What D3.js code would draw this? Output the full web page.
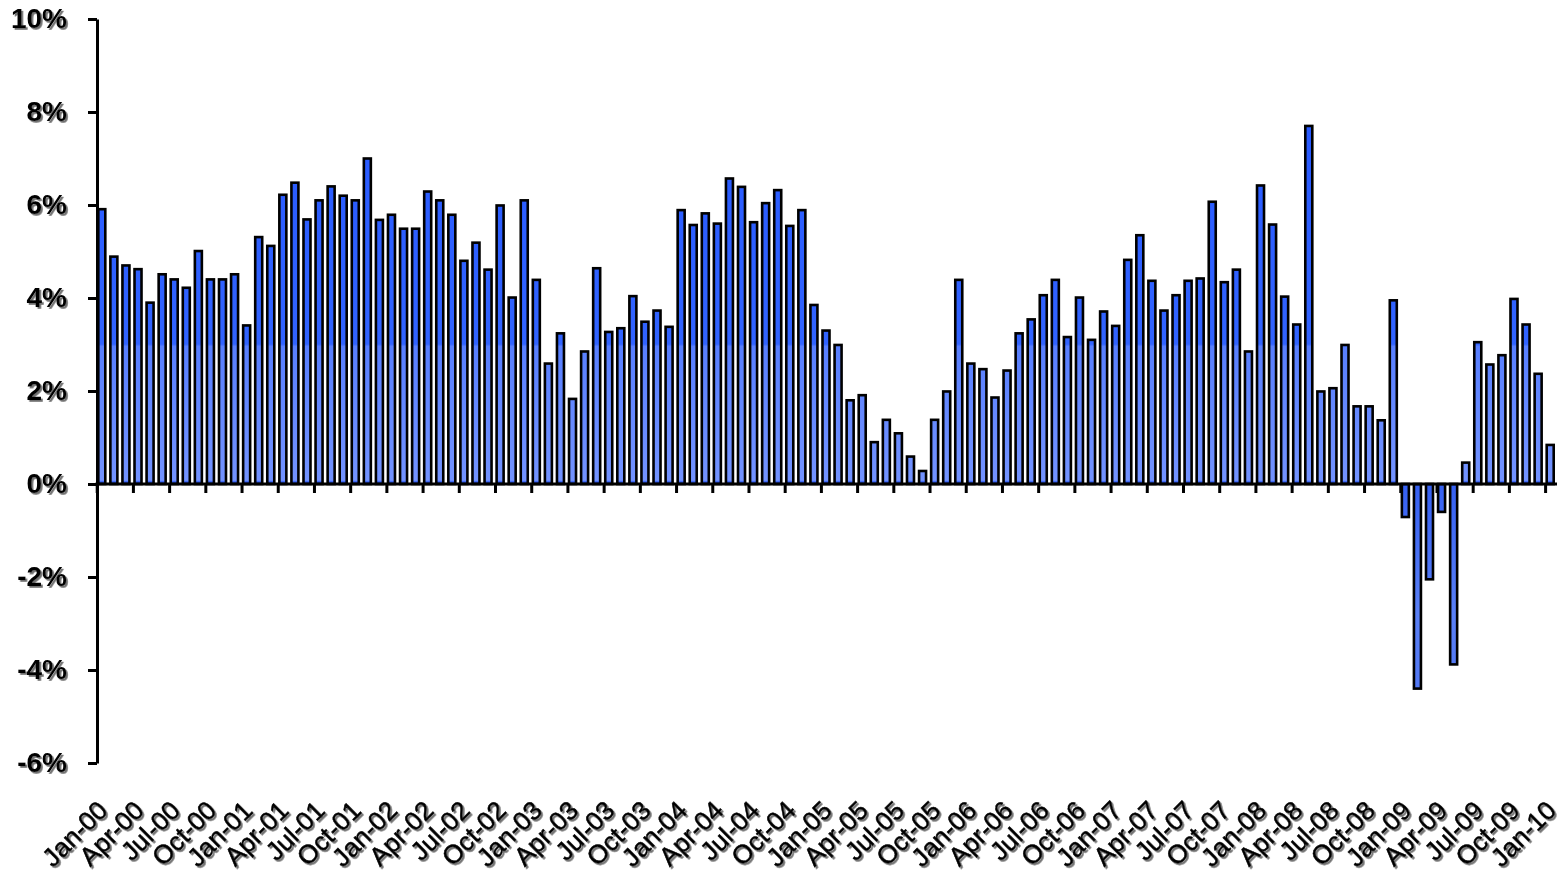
<!DOCTYPE html>
<html lang="en">
<head>
<meta charset="UTF-8">
<title>Monthly growth Jan-00 to Jan-10</title>
<script src="https://d3js.org/d3.v7.min.js"></script>
<style>
  body { margin: 0; background: #fff; }
  svg { display: block; background: #fff; }
  text { font-family: "Liberation Sans", Arial, sans-serif; font-weight: bold; fill: #000; }
</style>
</head>
<body>
<script>
// DATA (percent)
const years = ["00", "01", "02", "03", "04", "05", "06", "07", "08", "09", "10"];
const monthNames = ["Jan", "Feb", "Mar", "Apr", "May", "Jun", "Jul", "Aug", "Sep", "Oct", "Nov", "Dec"];

const v2000 = [5.91, 4.89, 4.70, 4.62, 3.90, 4.51, 4.40, 4.22, 5.01, 4.40, 4.40, 4.51];
const v2001 = [3.41, 5.31, 5.12, 6.22, 6.48, 5.69, 6.10, 6.40, 6.20, 6.10, 7.00, 5.68];
const v2002 = [5.79, 5.49, 5.49, 6.29, 6.10, 5.79, 4.80, 5.19, 4.61, 5.99, 4.01, 6.10];
const v2003 = [4.39, 2.59, 3.24, 1.83, 2.85, 4.64, 3.27, 3.35, 4.04, 3.49, 3.73, 3.38];
const v2004 = [5.89, 5.57, 5.82, 5.60, 6.57, 6.39, 5.63, 6.04, 6.32, 5.55, 5.89, 3.85];
const v2005 = [3.30, 2.99, 1.80, 1.91, 0.90, 1.38, 1.09, 0.59, 0.28, 1.38, 1.99, 4.39];
const v2006 = [2.59, 2.47, 1.86, 2.44, 3.24, 3.54, 4.06, 4.39, 3.16, 4.01, 3.10, 3.71];
const v2007 = [3.40, 4.82, 5.35, 4.37, 3.73, 4.06, 4.37, 4.42, 6.07, 4.34, 4.61, 2.85];
const v2008 = [6.42, 5.58, 4.03, 3.43, 7.70, 1.99, 2.06, 2.99, 1.67, 1.67, 1.37, 3.95];
const v2009 = [-0.71, -4.40, -2.05, -0.60, -3.88, 0.46, 3.05, 2.57, 2.77, 3.98, 3.43, 2.37];
const v2010 = [0.84];

const tickLabels = ["Jan-00", "Apr-00", "Jul-00", "Oct-00", "Jan-01", "Apr-01", "Jul-01", "Oct-01",
  "Jan-02", "Apr-02", "Jul-02", "Oct-02", "Jan-03", "Apr-03", "Jul-03", "Oct-03",
  "Jan-04", "Apr-04", "Jul-04", "Oct-04", "Jan-05", "Apr-05", "Jul-05", "Oct-05",
  "Jan-06", "Apr-06", "Jul-06", "Oct-06", "Jan-07", "Apr-07", "Jul-07", "Oct-07",
  "Jan-08", "Apr-08", "Jul-08", "Oct-08", "Jan-09", "Apr-09", "Jul-09", "Oct-09", "Jan-10"];
const yTicks = [-6, -4, -2, 0, 2, 4, 6, 8, 10];

const values = [].concat(v2000, v2001, v2002, v2003, v2004, v2005, v2006, v2007, v2008, v2009, v2010);
const months = years.flatMap(y => monthNames.map(m => m + "-" + y)).slice(0, values.length);
const data = months.map((m, i) => ({ month: m, value: values[i] }));

// LAYOUT
const W = 1568, H = 876;
const left = 97, right = 1557;
const barStroke = 2.6;

const svg = d3.select("body").append("svg").attr("width", W).attr("height", H);

const defs = svg.append("defs");
const grad = defs.append("linearGradient").attr("id", "barFill")
  .attr("gradientUnits", "userSpaceOnUse")
  .attr("x1", 0).attr("y1", 19).attr("x2", 0).attr("y2", 763);
[[0, "#2556ff"], [0.437, "#3264ff"], [0.44, "#587fff"], [0.62, "#7393ff"],
 [0.622, "#3560f2"], [0.8, "#5a80f6"], [1, "#4a70f2"]]
  .forEach(s => grad.append("stop").attr("offset", s[0]).attr("stop-color", s[1]));

const shadow = defs.append("filter").attr("id", "shadow")
  .attr("x", "-10%").attr("y", "-10%").attr("width", "130%").attr("height", "130%");
shadow.append("feDropShadow").attr("dx", 1.8).attr("dy", 1.8).attr("stdDeviation", 0.6)
  .attr("flood-color", "#555").attr("flood-opacity", 0.85);

// SCALES
const y = d3.scaleLinear().domain([-6, 10]).range([763, 19]);
const x = d3.scaleBand().domain(months)
  .range([left + 1.3, left + 1.3 + 1455.4])
  .paddingInner(0.42).paddingOuter(0);

// BARS
svg.append("g").selectAll("rect").data(data).join("rect")
  .attr("x", d => x(d.month))
  .attr("width", x.bandwidth())
  .attr("y", d => Math.min(y(d.value), y(0)))
  .attr("height", d => Math.abs(y(d.value) - y(0)))
  .attr("fill", "url(#barFill)")
  .attr("stroke", "#000")
  .attr("stroke-width", barStroke);

// Y AXIS
const yAxis = svg.append("g").attr("transform", `translate(${left},0)`)
  .call(d3.axisLeft(y).tickValues(yTicks).tickSize(9).tickSizeOuter(0).tickPadding(21)
    .tickFormat(d => d + "%"));
yAxis.selectAll("path, line").attr("stroke", "#000").attr("stroke-width", 3);
yAxis.selectAll("text").style("font-size", "28px").attr("filter", "url(#shadow)");

// ZERO LINE WITH MONTH TICKS
const xAxis = svg.append("g").attr("transform", `translate(0,${y(0)})`)
  .call(d3.axisBottom(x).tickValues(tickLabels).tickSize(9).tickFormat(""));
xAxis.select(".domain").remove();
xAxis.selectAll(".tick").attr("transform", d => `translate(${x(d) - barStroke / 2 + 0.2},0)`);
xAxis.selectAll("line").attr("stroke", "#000").attr("stroke-width", 3);
xAxis.append("line").attr("x1", left - 1.5).attr("x2", right)
  .attr("stroke", "#000").attr("stroke-width", 3.2);

// ROTATED MONTH LABELS
svg.append("g").attr("filter", "url(#shadow)")
  .selectAll("text").data(tickLabels).join("text")
  .attr("text-anchor", "end")
  .attr("transform", d => `translate(${x(d) + 11},812) rotate(-45)`)
  .style("font-size", "26px")
  .style("font-weight", "normal")
  .style("stroke", "#000").style("stroke-width", 0.5)
  .text(d => d);
</script>
</body>
</html>
